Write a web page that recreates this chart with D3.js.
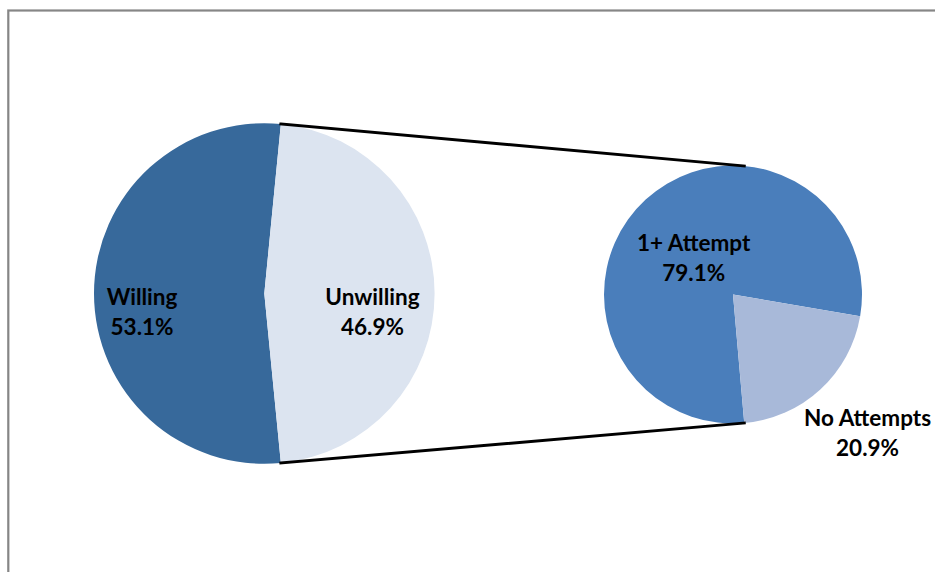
<!DOCTYPE html>
<html>
<head>
<meta charset="utf-8">
<script src="https://cdn.jsdelivr.net/npm/d3@7"></script>
<style>
	html, body { margin: 0; padding: 0; background: #fff; }
	svg { display: block; }
	.label { font-family: Lato, "Open Sans", sans-serif; font-weight: bold; font-size: 22.5px; fill: #000; }
</style>
</head>
<body>
<svg id="chart"></svg>
<script>
// Data
const mainCategories = ['Willing', 'Unwilling'];
const mainValues = [53.1, 46.9];
const subCategories = ['1+ Attempt', 'No Attempts'];
const subValues = [79.1, 20.9];

const translate = (x, y) => `translate(${x}, ${y})`;
const deg = d => d * Math.PI / 180;

// Chart dimensions
const WIDTH = 935;
const HEIGHT = 572;

// Pie geometry
const MAIN_CX = 264.3;
const MAIN_CY = 293.5;
const MAIN_R = 170.3;
const SUB_CX = 733;
const SUB_CY = 294.5;
const SUB_R = 129;

const MAIN_COLORS = ['#37699b', '#dce4f0'];
const SUB_COLORS = ['#4a7ebb', '#a8b9d9'];

// Label placement: fraction of radius along the slice mid angle, plus a vertical nudge
const LABEL_PLACEMENT = {
	'Willing': { k: 0.718, dy: 19 },
	'Unwilling': { k: 0.635, dy: 19 },
	'1+ Attempt': { k: 0.45, dy: 7 },
	'No Attempts': { k: 1.54, dy: -7 },
};

const polar = (cx, cy, r, a) => [cx + r * Math.sin(a), cy - r * Math.cos(a)];

const svg = d3.select('#chart')
	.attr('width', WIDTH)
	.attr('height', HEIGHT);

// chart frame (runs off the right and bottom edges)
svg.append('rect')
	.attr('x', 8.3)
	.attr('y', 10.5)
	.attr('width', WIDTH + 20)
	.attr('height', HEIGHT + 20)
	.attr('fill', 'none')
	.attr('stroke', '#868686')
	.attr('stroke-width', 2.2);

// Main pie: the split-off slice (Unwilling) is centred facing the second pie
const mainSplitSpan = 2 * Math.PI * mainValues[1] / d3.sum(mainValues);
const mainStart = Math.PI / 2 + mainSplitSpan / 2;
const mainPie = d3.pie().sort(null)
	.startAngle(mainStart)
	.endAngle(mainStart + 2 * Math.PI);
const mainArcs = mainPie(mainValues).map((d, i) => ({ ...d, name: mainCategories[i] }));

// Second pie
const subStart = deg(175);
const subPie = d3.pie().sort(null)
	.startAngle(subStart)
	.endAngle(subStart + 2 * Math.PI);
const subArcs = subPie(subValues).map((d, i) => ({ ...d, name: subCategories[i] }));

const drawPie = (cx, cy, r, arcs, colors) => {
	const arc = d3.arc().innerRadius(0).outerRadius(r);
	const g = svg.append('g').attr('transform', translate(cx, cy));
	g.selectAll('path')
		.data(arcs)
		.enter()
		.append('path')
		.attr('d', arc)
		.attr('fill', (d, i) => colors[i]);
};

drawPie(MAIN_CX, MAIN_CY, MAIN_R, mainArcs, MAIN_COLORS);
drawPie(SUB_CX, SUB_CY, SUB_R, subArcs, SUB_COLORS);

// Connector lines from the split slice edges to the second pie (mirrored top/bottom points)
const split = mainArcs[1];
const subTopAngle = Math.PI - subStart;
const connectors = [
	[polar(MAIN_CX, MAIN_CY, MAIN_R, split.startAngle), polar(SUB_CX, SUB_CY, SUB_R, subTopAngle)],
	[polar(MAIN_CX, MAIN_CY, MAIN_R, split.endAngle), polar(SUB_CX, SUB_CY, SUB_R, subStart)],
];
svg.selectAll('line.connector')
	.data(connectors)
	.enter()
	.append('line')
	.attr('class', 'connector')
	.attr('x1', d => d[0][0])
	.attr('y1', d => d[0][1])
	.attr('x2', d => d[1][0])
	.attr('y2', d => d[1][1])
	.attr('stroke', '#000')
	.attr('stroke-width', 3)
	.attr('stroke-linecap', 'square');

// Labels
const drawLabels = (cx, cy, r, arcs) => {
	const total = d3.sum(arcs, d => d.value);
	const labels = svg.append('g')
		.selectAll('text')
		.data(arcs)
		.enter()
		.append('text')
		.attr('class', 'label')
		.attr('text-anchor', 'middle')
		.attr('transform', d => {
			const { k, dy } = LABEL_PLACEMENT[d.name];
			const mid = (d.startAngle + d.endAngle) / 2;
			const [x, y] = polar(cx, cy, k * r, mid);
			return translate(x, y + dy);
		});

	labels.append('tspan')
		.attr('x', 0)
		.attr('y', -7.5)
		.text(d => d.name);

	labels.append('tspan')
		.attr('x', 0)
		.attr('y', 22.5)
		.text(d => `${(100 * d.value / total).toFixed(1)}%`);
};

drawLabels(MAIN_CX, MAIN_CY, MAIN_R, mainArcs);
drawLabels(SUB_CX, SUB_CY, SUB_R, subArcs);
</script>
</body>
</html>
